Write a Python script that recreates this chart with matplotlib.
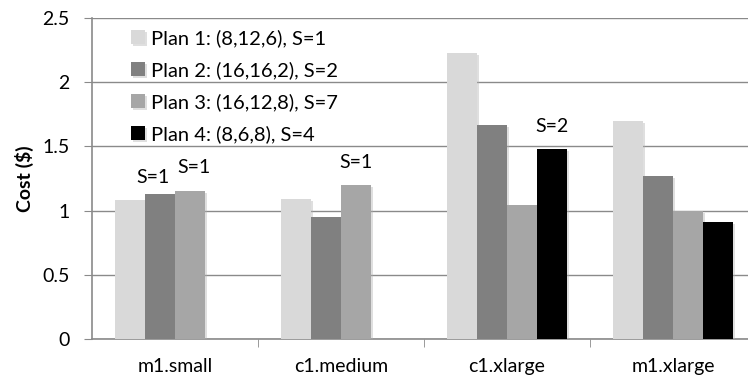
import matplotlib
matplotlib.use("Agg")
import matplotlib.pyplot as plt
import matplotlib.patheffects as pe
import numpy as np

plt.rcParams['font.family'] = ['Lato', 'DejaVu Sans']

# cost per instance type for each plan
instance_types = ['m1.small', 'c1.medium', 'c1.xlarge', 'm1.xlarge']
plan_labels = ['Plan 1: (8,12,6), S=1',
               'Plan 2: (16,16,2), S=2',
               'Plan 3: (16,12,8), S=7',
               'Plan 4: (8,6,8), S=4']
plan_colors = ['#d9d9d9', '#808080', '#a6a6a6', '#000000']
costs = [
    [1.08, 1.09, 2.23, 1.70],
    [1.13, 0.95, 1.67, 1.27],
    [1.15, 1.20, 1.04, 1.00],
    [0.0, 0.0, 1.48, 0.91],
]
# (plan index, instance index, text) for the split-count notes
notes = [(1, 0, 'S=1'), (2, 0, 'S=1'), (2, 1, 'S=1'), (3, 2, 'S=2')]
note_shift = [(-5, 11.5), (3, 17), (0, 16.5), (0, 16)]  # points from the bar top

fig = plt.figure(figsize=(7.48, 3.81), dpi=100)
ax = fig.add_axes([92 / 748, 1 - 339 / 381, 664 / 748, 321 / 381])

grid_col = '#8a8a8a'
x = np.arange(len(instance_types))
w = 0.18
shadow = [pe.SimplePatchShadow(offset=(1.5, -1.5), shadow_rgbFace='#b0b0b0', alpha=0.4), pe.Normal()]
for i, (vals, lab, col) in enumerate(zip(costs, plan_labels, plan_colors)):
    pos = x + (i - 1.5) * w
    bars = ax.bar(pos, vals, width=w, color=col, label=lab, zorder=3)
    for b in bars:
        b.set_path_effects(shadow)

for (p, c, txt), off in zip(notes, note_shift):
    ax.annotate(txt, (x[c] + (p - 1.5) * w, costs[p][c]), xytext=off,
                textcoords='offset points', ha='center', va='center', fontsize=14)

ax.set_xlim(-0.5, len(instance_types) - 0.5)
ax.set_ylim(0, 2.5)
ax.set_yticks(np.arange(0, 2.51, 0.5))
ax.set_yticklabels(['0', '0.5', '1', '1.5', '2', '2.5'])
ax.set_xticks(x)
ax.set_xticklabels(instance_types)
ax.set_xticks(np.arange(0.5, len(instance_types) - 0.5, 1), minor=True)
ax.tick_params(axis='x', which='major', length=0, pad=14, labelsize=14)
ax.tick_params(axis='x', which='minor', length=6, color=grid_col, direction='out')
ax.tick_params(axis='y', length=6, color=grid_col, labelsize=14, pad=10)
ax.yaxis.grid(True, color=grid_col, lw=1)
ax.set_axisbelow(True)
for s in ['top', 'right']:
    ax.spines[s].set_visible(False)
for s in ['left', 'bottom']:
    ax.spines[s].set_color(grid_col)
    ax.spines[s].set_linewidth(1.2)

ax.set_ylabel('Cost ($)', fontsize=14, fontweight='bold', labelpad=6)

ax.legend(loc='upper left', bbox_to_anchor=(0.032, 1.022), frameon=False, fontsize=14.5,
          handlelength=0.69, handleheight=0.69, handletextpad=0.3, labelspacing=0.7,
          borderpad=0.4)

fig.savefig('out.png', dpi=100)
